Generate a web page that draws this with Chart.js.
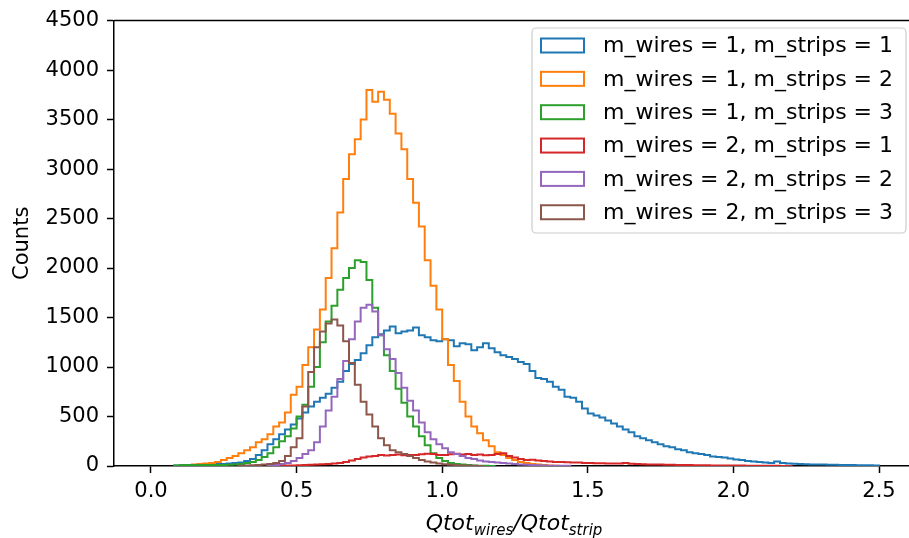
<!DOCTYPE html>
<html>
<head>
<meta charset="utf-8">
<script src="https://cdn.jsdelivr.net/npm/chart.js@4.4.1/dist/chart.umd.min.js"></script>
<style>
  html, body { margin: 0; padding: 0; background: #fff; }
  #wrap { width: 909px; height: 538px; position: relative; }
</style>
</head>
<body>
<div id="wrap"><canvas id="histChart"></canvas></div>
<script>
// bin width of every histogram, values are counts per bin
const binWidth = 0.02;

const labels = [
    'm_wires = 1, m_strips = 1',
    'm_wires = 1, m_strips = 2',
    'm_wires = 1, m_strips = 3',
    'm_wires = 2, m_strips = 1',
    'm_wires = 2, m_strips = 2',
    'm_wires = 2, m_strips = 3'
];
const colors = ['#1f77b4', '#ff7f0e', '#2ca02c', '#d62728', '#9467bd', '#8c564b'];

// first bin edge of each series
const starts = [0.08, 0.10, 0.08, 0.40, 0.40, 0.30];

const countsW1S1 = [
    5, 8, 10, 10, 12, 15, 15, 20, 20, 25, 30, 35,
    50, 70, 110, 160, 220, 270, 320, 370, 420, 480, 540, 600,
    650, 690, 730, 790, 850, 960, 1030, 1070, 1140, 1220, 1300, 1330,
    1370, 1410, 1340, 1360, 1370, 1400, 1320, 1300, 1270, 1260, 1280, 1270,
    1210, 1240, 1230, 1170, 1200, 1240, 1190, 1150, 1120, 1100, 1080, 1050,
    1030, 960, 890, 880, 850, 800, 770, 700, 690, 650, 580, 530,
    510, 490, 460, 430, 400, 370, 340, 300, 280, 260, 240, 220,
    200, 190, 170, 160, 140, 130, 120, 110, 95, 90, 85, 75,
    65, 60, 50, 45, 40, 35, 30, 45, 30, 25, 22, 20,
    18, 16, 15, 14, 12, 12, 10, 10, 9, 8, 8, 7,
    6
];
const countsW1S2 = [
    5, 10, 15, 20, 25, 30, 40, 60, 80, 100, 130, 160,
    190, 240, 270, 320, 400, 440, 540, 720, 800, 1020, 1200, 1380,
    1580, 1900, 2200, 2560, 2900, 3150, 3300, 3500, 3800, 3680, 3780, 3700,
    3560, 3360, 3200, 2900, 2660, 2420, 2080, 1820, 1580, 1280, 1020, 860,
    650, 500, 400, 330, 260, 200, 140, 110, 80, 60, 40, 30,
    20, 15, 10, 5, 3
];
const countsW1S3 = [
    5, 10, 10, 10, 10, 10, 10, 10, 10, 12, 15, 20,
    30, 40, 60, 90, 130, 190, 250, 300, 380, 500, 620, 800,
    1000, 1250, 1460, 1620, 1780, 1900, 2000, 2080, 2060, 1880, 1600, 1320,
    1120, 960, 780, 640, 500, 400, 300, 210, 130, 80, 50, 30,
    20, 15, 10, 5, 3, 2, 1
];
const countsW2S1 = [
    2, 3, 4, 5, 6, 8, 10, 12, 15, 18, 20, 25,
    30, 40, 55, 70, 85, 95, 100, 110, 105, 110, 115, 108,
    112, 110, 118, 125, 120, 112, 110, 118, 125, 115, 120, 112,
    115, 108, 110, 120, 130, 100, 85, 70, 60, 62, 55, 50,
    45, 40, 40, 38, 35, 35, 30, 30, 28, 28, 25, 25,
    24, 30, 22, 20, 18, 16, 15, 14, 12, 12, 10, 10,
    9, 8, 8, 7, 6, 6, 5, 5, 4, 4, 3, 3,
    3, 2, 2, 2, 1, 1
];
const countsW2S2 = [
    3, 10, 20, 30, 50, 80, 120, 160, 240, 400, 560, 700,
    880, 1060, 1280, 1460, 1600, 1630, 1560, 1320, 1180, 1080, 940, 790,
    660, 560, 440, 340, 270, 220, 180, 140, 120, 100, 80, 70,
    55, 45, 40, 35, 30, 25, 20, 15, 12, 10, 8, 5,
    3, 3, 2, 2
];
const countsW2S3 = [
    3, 5, 8, 10, 15, 20, 30, 50, 100, 190, 280, 600,
    950, 1200, 1360, 1440, 1480, 1420, 1260, 1040, 820, 650, 520, 400,
    280, 210, 160, 140, 120, 100, 80, 60, 45, 35, 25, 18,
    12, 8, 5, 3, 2, 1
];
const seriesCounts = [countsW1S1, countsW1S2, countsW1S3, countsW2S1, countsW2S2, countsW2S3];

const xTicks = [0, 0.5, 1.0, 1.5, 2.0, 2.5];
const yTicks = [0, 500, 1000, 1500, 2000, 2500, 3000, 3500, 4000, 4500];

// step outline like matplotlib histtype='step'
const stepPoints = (start, counts) => {
    const edge = (i) => +(start + i * binWidth).toFixed(4);
    const pts = [{ x: edge(0), y: 0 }];
    counts.forEach((c, i) => pts.push({ x: edge(i), y: c }));
    pts.push({ x: edge(counts.length), y: counts[counts.length - 1] });
    pts.push({ x: edge(counts.length), y: 0 });
    return pts;
};

const datasets = seriesCounts.map((counts, i) => ({
    label: labels[i],
    data: stepPoints(starts[i], counts),
    borderColor: colors[i],
    backgroundColor: colors[i],
    borderWidth: 2,
    stepped: 'before',
    pointRadius: 0,
    fill: false,
    order: seriesCounts.length - i
}));

const FONT = 'DejaVu Sans';

const extrasPlugin = {
    id: 'extras',
    afterDraw(chart) {
        const ctx = chart.ctx;
        const area = chart.chartArea;
        ctx.save();
        // top spine
        ctx.strokeStyle = '#000';
        ctx.lineWidth = 1.5;
        ctx.beginPath();
        ctx.moveTo(area.left, area.top);
        ctx.lineTo(area.right, area.top);
        ctx.stroke();

        // legend
        const lx = 532, ly = 28, lw = 374, lh = 205, r = 4;
        ctx.fillStyle = 'rgba(255,255,255,0.8)';
        ctx.strokeStyle = '#cccccc';
        ctx.lineWidth = 1.2;
        ctx.beginPath();
        ctx.roundRect(lx, ly, lw, lh, r);
        ctx.fill();
        ctx.stroke();
        ctx.font = '22px "' + FONT + '"';
        ctx.textBaseline = 'middle';
        ctx.textAlign = 'left';
        labels.forEach((lab, i) => {
            const cy = 45.5 + i * 33.35;
            ctx.fillStyle = '#fff';
            ctx.strokeStyle = colors[i];
            ctx.lineWidth = 2;
            ctx.fillRect(541, cy - 7, 43, 14);
            ctx.strokeRect(541, cy - 7, 43, 14);
            ctx.fillStyle = '#000';
            ctx.fillText(lab, 603, cy + 1);
        });

        // x axis title with subscripts
        const parts = [
            { t: 'Qtot', f: 'italic 22px "' + FONT + '"', dy: 0 },
            { t: 'wires', f: 'italic 15px "' + FONT + '"', dy: 5 },
            { t: '/Qtot', f: 'italic 22px "' + FONT + '"', dy: 0 },
            { t: 'strip', f: 'italic 15px "' + FONT + '"', dy: 5 }
        ];
        ctx.textBaseline = 'alphabetic';
        let total = 0;
        parts.forEach(p => { ctx.font = p.f; p.w = ctx.measureText(p.t).width; total += p.w; });
        let x = 514 - total / 2;
        const base = 530;
        parts.forEach(p => {
            ctx.font = p.f;
            ctx.fillText(p.t, x, base + p.dy);
            x += p.w;
        });
        ctx.restore();
    }
};

Chart.defaults.font.family = FONT;
Chart.defaults.color = '#000';

new Chart(document.getElementById('histChart').getContext('2d'), {
    type: 'line',
    data: { datasets },
    options: {
        responsive: true,
        maintainAspectRatio: false,
        animation: false,
        layout: { padding: { top: 16, right: 0, left: 0, bottom: 0 } },
        plugins: {
            legend: { display: false },
            tooltip: { enabled: false }
        },
        scales: {
            x: {
                type: 'linear',
                min: -0.127,
                max: 2.603,
                afterBuildTicks: (scale) => { scale.ticks = xTicks.map(v => ({ value: v })); },
                afterFit: (scale) => { scale.height = 72; },
                ticks: {
                    font: { size: 21 },
                    padding: 6,
                    maxRotation: 0,
                    callback: (v) => Number(v).toFixed(1)
                },
                grid: {
                    drawOnChartArea: false,
                    drawTicks: true,
                    tickLength: 7,
                    tickWidth: 1.5,
                    tickColor: '#000'
                },
                border: { display: true, color: '#000', width: 1.5 }
            },
            y: {
                min: 0,
                max: 4500,
                afterBuildTicks: (scale) => { scale.ticks = yTicks.map(v => ({ value: v })); },
                afterFit: (scale) => { scale.width = 114; },
                ticks: {
                    font: { size: 21 },
                    padding: 8,
                    callback: (v) => String(v)
                },
                title: {
                    display: true,
                    text: 'Counts',
                    font: { size: 21 },
                    padding: { top: 10, bottom: 0 }
                },
                grid: {
                    drawOnChartArea: false,
                    drawTicks: true,
                    tickLength: 7,
                    tickWidth: 1.5,
                    tickColor: '#000'
                },
                border: { display: true, color: '#000', width: 1.5 }
            }
        }
    },
    plugins: [extrasPlugin]
});
</script>
</body>
</html>
